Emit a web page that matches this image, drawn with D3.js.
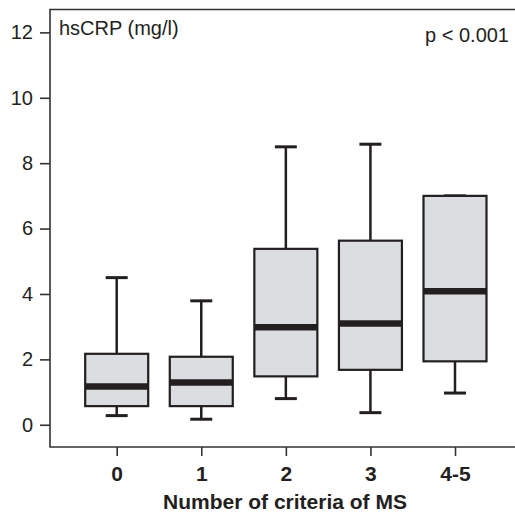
<!DOCTYPE html>
<html>
<head>
<meta charset="utf-8">
<script src="https://cdn.jsdelivr.net/npm/d3@7"></script>
<style>
	body { margin: 0; background: #fff; }
	text { font-family: "Liberation Sans", Arial, Helvetica, sans-serif; fill: #231f20; }
</style>
</head>
<body>
<div id="chart"></div>
<script>
// hsCRP (mg/l) by number of metabolic syndrome criteria
var groups = ["0", "1", "2", "3", "4-5"];
var whiskerLow = [0.28, 0.17, 0.8, 0.37, 0.97];
var q1 = [0.57, 0.57, 1.48, 1.68, 1.94];
var median = [1.17, 1.29, 2.98, 3.1, 4.08];
var q3 = [2.17, 2.08, 5.38, 5.63, 7.0];
var whiskerHigh = [4.5, 3.79, 8.5, 8.58, 7.0];
var yTicks = [0, 2, 4, 6, 8, 10, 12];

var width = 515, height = 514;
// note: "top" is taken by window.top, so plot edges get their own names
var plotLeft = 50, plotTop = 9.5, plotRight = 517, plotBottom = 447;

var svg = d3.select("#chart")
	.append("svg")
	.attr("width", width)
	.attr("height", height);

var x = d3.scalePoint()
	.domain(groups)
	.range([116.7, 455]);

var y = d3.scaleLinear()
	.domain([-0.68, 12.7])
	.range([plotBottom, plotTop]);

var boxW = 63, capW = 22;
var ink = "#231f20";

var boxes = groups.map(function (g, i) {
	return {g: g, lo: whiskerLow[i], q1: q1[i], med: median[i], q3: q3[i], hi: whiskerHigh[i]};
});

var plot = svg.append("g");

plot.selectAll("g.box").data(boxes)
	.enter()
	.append("g")
	.attr("class", "box")
	.each(function (d) {
		var g = d3.select(this);
		var cx = x(d.g);

		// whiskers
		g.append("line")
			.attr("x1", cx).attr("x2", cx)
			.attr("y1", y(d.q3)).attr("y2", y(d.hi))
			.attr("stroke", ink).attr("stroke-width", 2.5);
		g.append("line")
			.attr("x1", cx).attr("x2", cx)
			.attr("y1", y(d.q1)).attr("y2", y(d.lo))
			.attr("stroke", ink).attr("stroke-width", 2.5);
		g.append("line")
			.attr("x1", cx - capW / 2).attr("x2", cx + capW / 2)
			.attr("y1", y(d.hi)).attr("y2", y(d.hi))
			.attr("stroke", ink).attr("stroke-width", 3);
		g.append("line")
			.attr("x1", cx - capW / 2).attr("x2", cx + capW / 2)
			.attr("y1", y(d.lo)).attr("y2", y(d.lo))
			.attr("stroke", ink).attr("stroke-width", 3);

		g.append("rect")
			.attr("x", cx - boxW / 2)
			.attr("y", y(d.q3))
			.attr("width", boxW)
			.attr("height", y(d.q1) - y(d.q3))
			.attr("fill", "#dcdde0")
			.attr("stroke", ink)
			.attr("stroke-width", 2.2);

		g.append("line")
			.attr("x1", cx - boxW / 2).attr("x2", cx + boxW / 2)
			.attr("y1", y(d.med)).attr("y2", y(d.med))
			.attr("stroke", ink).attr("stroke-width", 6.5);
	});

// frame (right edge runs off the picture)
svg.append("path")
	.attr("d", "M" + plotRight + "," + plotTop + "H" + plotLeft + "V" + plotBottom + "H" + plotRight)
	.attr("fill", "none")
	.attr("stroke", "#333")
	.attr("stroke-width", 1.6);

// y axis
var yAxis = svg.append("g")
	.attr("transform", "translate(" + plotLeft + ",0)")
	.call(d3.axisLeft(y).tickValues(yTicks).tickSize(10).tickPadding(7));
yAxis.select(".domain").remove();
yAxis.selectAll(".tick line").attr("stroke", "#333").attr("stroke-width", 1.6);
yAxis.selectAll(".tick text")
	.attr("fill", ink)
	.style("font-size", "20px")
	.style("font-family", "'Liberation Sans', Arial, sans-serif");

// x axis
var xAxis = svg.append("g")
	.attr("transform", "translate(0," + plotBottom + ")")
	.call(d3.axisBottom(x).tickSize(9).tickPadding(10));
xAxis.select(".domain").remove();
xAxis.selectAll(".tick line").attr("stroke", "#333").attr("stroke-width", 1.6);
xAxis.selectAll(".tick text")
	.attr("fill", ink)
	.style("font-size", "21px")
	.style("font-weight", "bold")
	.style("font-family", "'Liberation Sans', Arial, sans-serif");

svg.append("text")
	.attr("x", 285)
	.attr("y", 509)
	.attr("text-anchor", "middle")
	.style("font-size", "21px")
	.style("font-weight", "bold")
	.text("Number of criteria of MS");

svg.append("text")
	.attr("x", 59)
	.attr("y", 35)
	.style("font-size", "20px")
	.text("hsCRP (mg/l)");

svg.append("text")
	.attr("x", 509)
	.attr("y", 42)
	.attr("text-anchor", "end")
	.style("font-size", "20px")
	.text("p < 0.001");
</script>
</body>
</html>
